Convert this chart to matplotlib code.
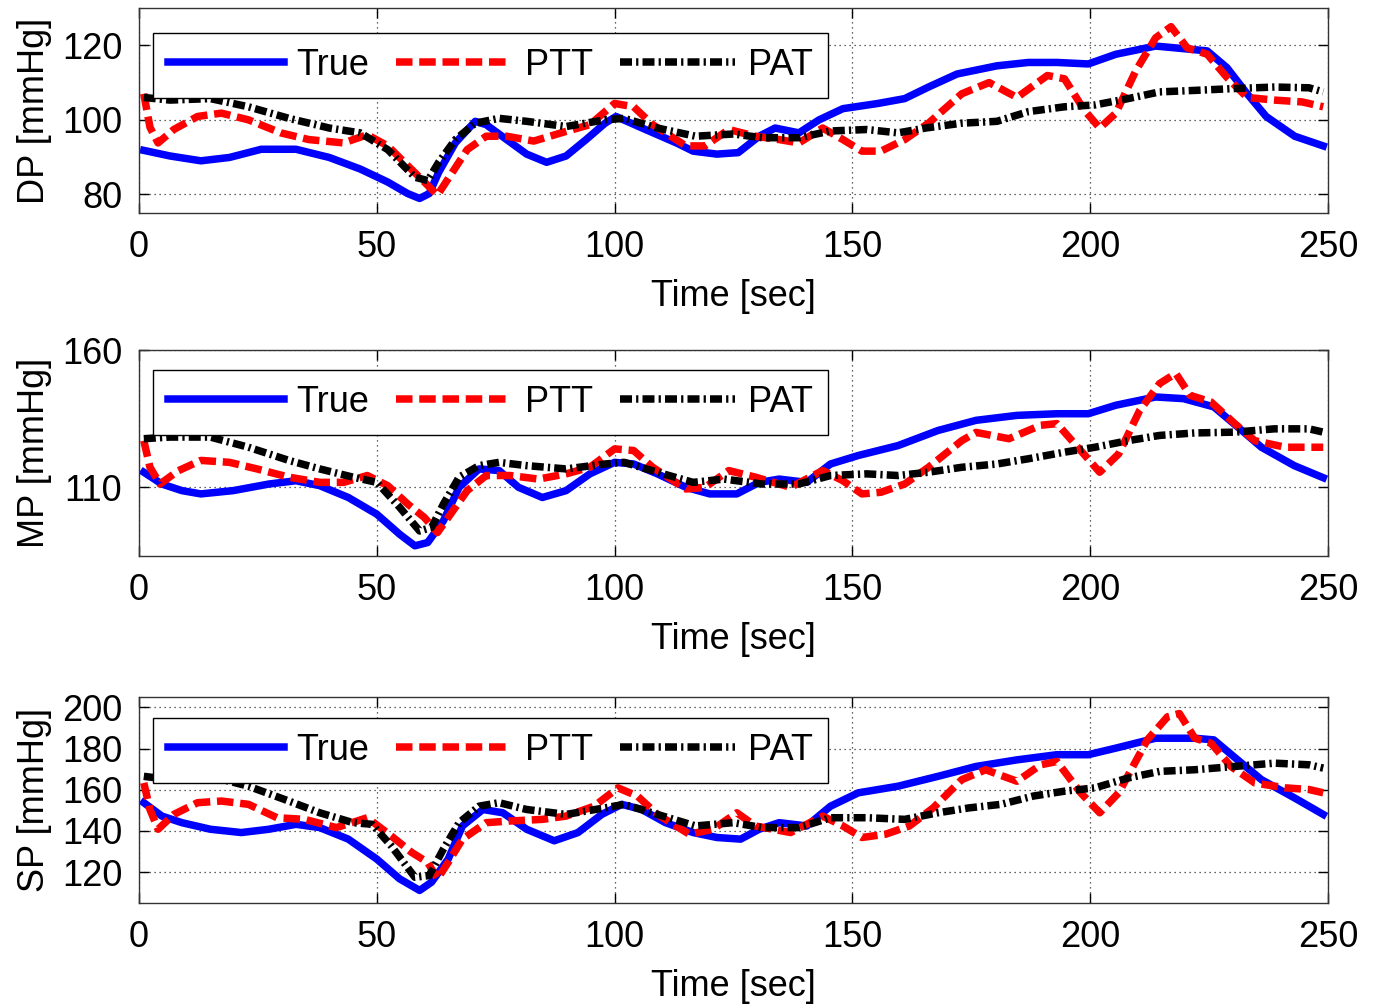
import matplotlib
matplotlib.use("Agg")
import matplotlib.pyplot as plt

plt.rcParams['font.family'] = ['Liberation Sans', 'DejaVu Sans']

# ---------------- DP ----------------
t_dp_true = [1, 6.5, 13, 19, 25.7, 33, 40, 46.5, 52.3, 56.5, 59, 61, 63, 66.5, 70.7, 73, 77.3, 81.5, 85.7, 89.8, 94, 98, 100.3, 106.5, 113, 116.5, 121.5, 126, 130.4, 133.75, 138.75, 143, 148, 155.4, 161, 166, 172, 180.4, 187, 193, 199.6, 205.4, 213.75, 218, 224.6, 228.75, 233, 237, 243, 249]
dp_true = [91.8, 90.3, 89, 89.9, 92.1, 92.1, 89.9, 86.8, 83.3, 80.2, 78.9, 80.2, 85.9, 93.8, 99.6, 98.7, 94.7, 90.8, 88.6, 90.3, 94.7, 99.1, 100.9, 97.4, 93.8, 91.6, 90.8, 91.2, 95.6, 97.8, 96.5, 100, 103, 104.4, 105.7, 108.8, 112.3, 114.5, 115.4, 115.4, 115, 117.6, 119.8, 119.3, 118.5, 114, 107, 100.9, 95.6, 93]

t_dp_ptt = [1, 2.3, 4, 7.3, 12.3, 17.3, 23, 29.8, 35.7, 43, 48, 52.3, 56.5, 60, 62.75, 65, 69, 73, 77.3, 83, 89.8, 94.8, 100, 104, 108, 115, 119, 124, 129.6, 134.6, 138.75, 143.75, 148, 152, 156, 161, 166, 173, 178.75, 184.6, 191, 194.6, 198.75, 202, 205.4, 209.6, 213.75, 217, 220.4, 224.6, 228.75, 233, 238.75, 244.6, 249]
dp_ptt = [107, 98, 93.8, 97.4, 100.9, 101.8, 100, 96.5, 94.7, 93.8, 96, 93, 87.7, 83.3, 79.8, 84.2, 92, 95.6, 95.6, 94.3, 96.9, 98.7, 104.4, 103.5, 98.7, 93, 93, 97.4, 95.6, 94.7, 93.8, 97.8, 94.7, 91.6, 91.6, 94.7, 99.1, 107, 110, 106, 111.9, 111, 102.6, 97.8, 101.8, 113.2, 122, 125, 119.3, 117.6, 111.4, 106, 105.3, 104.8, 103.5]

t_dp_pat = [1, 6.5, 15, 23, 31.5, 40, 46.5, 52.3, 58, 60.7, 63, 66.5, 70.7, 75.7, 81.5, 89.8, 98, 102, 109, 117, 125, 131, 138.75, 145.4, 153, 159.6, 165.4, 173, 180.4, 187, 194.6, 201, 208, 214.6, 222, 230.4, 238.75, 246, 249]
dp_pat = [106, 105.3, 105.7, 103.5, 100.4, 97.8, 96.5, 92, 84.6, 83.7, 88.6, 94.7, 99.1, 100.4, 99.6, 98.2, 100, 100.4, 97.8, 95.6, 96.2, 95.2, 95.2, 97, 97.4, 96.5, 97.8, 99.1, 99.6, 102.2, 103.5, 104, 105.7, 107.5, 107.9, 108.4, 108.8, 108.6, 107.5]

# ---------------- MP ----------------
t_mp_true = [1, 4.8, 9, 13, 19.8, 27.3, 33, 38, 44, 50, 54.8, 58, 60.7, 64, 67.3, 71.5, 75.7, 79.8, 84.8, 89.8, 94.8, 100, 104, 109, 115, 120, 125.7, 130.4, 134.6, 140.4, 145.4, 151.25, 159.6, 168, 176, 184.6, 193, 199.6, 205.4, 213.75, 219.6, 226, 231, 236, 242.9, 249]
mp_true = [115.5, 111.2, 108.8, 107.6, 108.8, 111.2, 112.4, 110.6, 106.3, 100.2, 92.9, 88.7, 89.9, 97.8, 110, 116.7, 116.1, 110, 106.3, 108.8, 114.9, 119.1, 118.5, 114.9, 110, 107.6, 107.6, 111.8, 113, 111.8, 118.5, 121.6, 125.2, 130.7, 134.4, 136.2, 136.8, 136.8, 139.9, 142.9, 142.3, 139.3, 132, 124.6, 117.9, 113.5]

t_mp_ptt = [1, 2.3, 4.4, 8.2, 13, 19, 24.8, 31.5, 38, 43, 48, 52.3, 56.5, 60, 62.75, 65, 69, 73, 78, 84, 89.8, 94.8, 100, 104, 108, 115, 119, 124, 129.6, 137, 143.75, 148, 152, 156, 161, 166, 173, 176, 182.9, 189.6, 193, 198, 202, 206, 210.4, 214.6, 218, 221, 225.4, 230.4, 234.6, 241, 249]
mp_ptt = [127, 117.3, 111.2, 116, 119.8, 119.1, 116.7, 113.7, 111.8, 111.8, 114.3, 110.6, 103.9, 99, 93.5, 99, 108.8, 114.3, 114.3, 113, 114.9, 117.3, 124, 123.4, 117.3, 109.4, 110, 116.1, 113.7, 110, 116.1, 112.4, 107.6, 108.2, 111.2, 117.3, 127, 130, 127.7, 132.6, 133.2, 123.4, 115.5, 122.2, 138, 147.8, 151.5, 143.5, 141.1, 133.2, 127, 124.6, 124.6]

t_mp_pat = [1, 6.5, 15, 23, 31.5, 38, 45, 50, 54.8, 59, 61.5, 64, 67.3, 71.5, 75.7, 81.5, 89.8, 98, 102, 109, 116.5, 123, 131, 138.75, 145.4, 153, 159.6, 166, 173, 180.4, 187, 194.6, 201, 208, 214.6, 222, 230.4, 238.75, 246, 249]
mp_pat = [127.7, 128.3, 128.3, 124.6, 119.8, 116.7, 113.7, 111.8, 102.7, 94.1, 95.4, 103.9, 113.7, 117.9, 119.1, 117.9, 116.7, 118.5, 119.1, 115.5, 111.8, 113, 111.2, 111.2, 114.3, 114.9, 114.3, 115.5, 117.3, 118.5, 120.4, 122.8, 124.6, 127, 128.9, 129.8, 130.1, 131.3, 131.3, 130.1]

# ---------------- SP ----------------
t_sp_true = [1, 4.8, 9, 15, 21.5, 27.3, 33, 38, 44, 50, 54.8, 59, 61.5, 65, 68, 72.3, 76.5, 81.5, 87.3, 92.3, 97.3, 101.5, 105.7, 110.7, 116.5, 121.5, 126.5, 130.4, 134.6, 140.4, 145.4, 151.25, 159.6, 168, 176, 184.6, 193, 199.6, 205.4, 213.75, 222, 226, 231, 236, 242.9, 249]
sp_true = [153.7, 147.2, 144, 140.8, 139.2, 140.8, 143.2, 141.6, 136, 126.3, 116.7, 111.1, 115.1, 126.3, 142.4, 150.4, 148.8, 140.8, 135.2, 139.2, 148, 152.9, 150.4, 144, 139.2, 136.8, 136, 140.8, 144, 142.4, 152, 158.5, 161.7, 166.5, 171.3, 174.5, 177, 177, 180.2, 185, 185, 184.2, 174.5, 164.9, 156.1, 148]

t_sp_ptt = [1, 2.3, 4, 7.3, 12.3, 17.3, 23, 29, 34.8, 41.5, 48, 53, 57.3, 60.7, 62.75, 65, 68, 73, 78, 84.8, 89.8, 95.7, 100.7, 104.8, 109, 115.7, 120.7, 125.7, 129.6, 137, 143.75, 148, 152, 157, 162, 167, 173, 178, 184.6, 189.6, 193, 198, 202, 206, 212, 216.25, 218.75, 222, 225.4, 229.6, 234.6, 241, 246, 249]
sp_ptt = [163.3, 150.4, 140.8, 148, 153.7, 154.5, 152.9, 146.4, 145.6, 141.6, 146.4, 137.6, 129.6, 124.7, 116.7, 124.7, 136, 144, 144.8, 145.6, 147.2, 152, 160.9, 156.9, 148, 138.4, 140.8, 148.8, 142.4, 139.2, 147.2, 142.4, 136.8, 138.4, 142.4, 151.2, 164.9, 169.7, 164.1, 172.1, 173.7, 158.5, 148.8, 158.5, 184.2, 195.4, 197, 185, 182.6, 171.3, 163.3, 160.9, 160.1, 158.5]

t_sp_pat = [1, 6.5, 15, 23, 31.5, 38, 45, 49, 53, 58, 61, 64, 67.3, 71.5, 75.7, 81.5, 89.8, 98, 102, 109, 117, 125, 131, 138.75, 145.4, 153, 161, 168, 174.6, 181.25, 188, 194.6, 201, 208, 214.6, 222, 230.4, 238.75, 246, 249]
sp_pat = [166.5, 164.9, 166.5, 161.7, 154.5, 148.8, 144, 143.2, 132.8, 117.5, 118.3, 131.2, 144, 152, 153.7, 150.4, 148, 151.2, 152.9, 148, 142.4, 144, 141.6, 141.6, 146.4, 146.4, 145.6, 148.8, 151.2, 152.9, 156.9, 159.3, 160.9, 165.7, 168.9, 169.7, 171.3, 172.9, 172.1, 170.5]

series_labels = ['True', 'PTT', 'PAT']
x_ticks = [0, 50, 100, 150, 200, 250]
x_label = 'Time [sec]'

panels = [
    dict(ylabel='DP [mmHg]', ylim=(75, 130), yticks=[80, 100, 120],
         data=[(t_dp_true, dp_true), (t_dp_ptt, dp_ptt), (t_dp_pat, dp_pat)],
         pos=[0.1009, 0.7885, 0.8628, 0.2035], legtop=0.88),
    dict(ylabel='MP [mmHg]', ylim=(85, 160), yticks=[110, 160],
         data=[(t_mp_true, mp_true), (t_mp_ptt, mp_ptt), (t_mp_pat, mp_pat)],
         pos=[0.1009, 0.4479, 0.8628, 0.2045], legtop=0.905),
    dict(ylabel='SP [mmHg]', ylim=(105, 205), yticks=[120, 140, 160, 180, 200],
         data=[(t_sp_true, sp_true), (t_sp_ptt, sp_ptt), (t_sp_pat, sp_pat)],
         pos=[0.1009, 0.1033, 0.8628, 0.2045], legtop=0.9),
]

styles = [
    dict(color='#0000ff', linestyle='-', lw=5.4),
    dict(color='#ff0000', linestyle=(0, (2.2, 0.9)), lw=5.4),
    dict(color='#000000', linestyle=(0, (1.6, 0.55, 0.3, 0.55)), lw=5.4),
]

fig = plt.figure(figsize=(13.78, 10.07), dpi=100)
FS = 26

for p in panels:
    ax = fig.add_axes(p['pos'])
    for (t, v), lab, st in zip(p['data'], series_labels, styles):
        ax.plot(t, v, label=lab, color=st['color'], linestyle=st['linestyle'],
                lw=st['lw'], solid_joinstyle='round', dash_joinstyle='round',
                dash_capstyle='butt')
    ax.set_xlim(0, 250)
    ax.set_ylim(*p['ylim'])
    ax.set_xticks(x_ticks)
    ax.set_yticks(p['yticks'])
    ax.grid(True, linestyle=(0, (1, 3)), color='black', lw=0.9, alpha=0.8)
    ax.tick_params(direction='in', top=True, right=True, length=7, width=1,
                   labelsize=FS, pad=12)
    for s in ax.spines.values():
        s.set_linewidth(1.0)
        s.set_color('#333333')
    ax.set_xlabel(x_label, fontsize=FS, labelpad=10)
    ax.set_ylabel(p['ylabel'], fontsize=FS)
    ax.yaxis.set_label_coords(-0.073, 0.5)
    leg = ax.legend(loc='upper left', bbox_to_anchor=(0.0118, p['legtop']),
                    ncol=3, fontsize=FS, frameon=True, fancybox=False,
                    framealpha=1, edgecolor='black', borderaxespad=0,
                    handlelength=3.2, handletextpad=0.35, columnspacing=0.75,
                    borderpad=0.42)
    leg.get_frame().set_linewidth(1.0)

fig.savefig('out.png', dpi=100)
